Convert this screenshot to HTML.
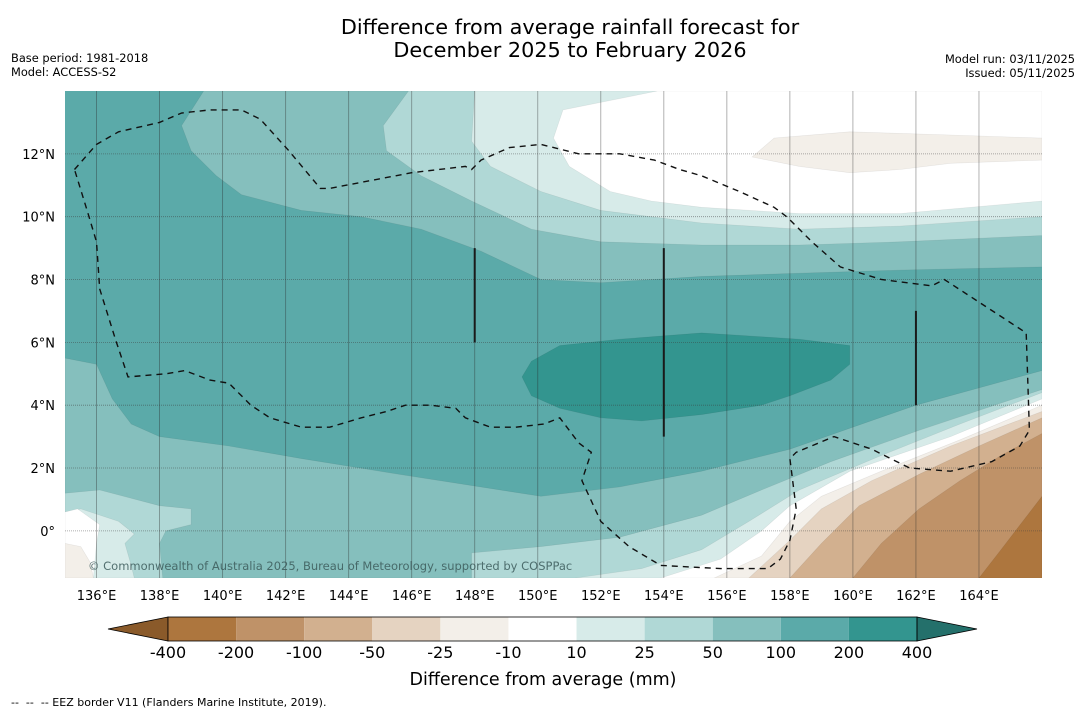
<!DOCTYPE html>
<html><head><meta charset="utf-8"><style>
body{margin:0;background:#fff;width:1085px;height:713px;overflow:hidden;font-family:"Liberation Sans",sans-serif}
svg text{font-family:"DejaVu Sans","Liberation Sans",sans-serif}
</style></head><body>
<svg id="c" width="1085" height="713">
<text x="570" y="34" text-anchor="middle" font-size="20.8">Difference from average rainfall forecast for</text>
<text x="570" y="57" text-anchor="middle" font-size="20.8">December 2025 to February 2026</text>
<text x="11" y="62" font-size="11.4">Base period: 1981-2018</text>
<text x="11" y="76" font-size="11.4">Model: ACCESS-S2</text>
<text x="1075" y="63" font-size="11.4" text-anchor="end">Model run: 03/11/2025</text>
<text x="1075" y="77" font-size="11.4" text-anchor="end">Issued: 05/11/2025</text>
<defs><clipPath id="mc"><rect x="65" y="91" width="977" height="487"/></clipPath></defs>
<g id="map" clip-path="url(#mc)"></g>
<g id="axes"></g>
<g id="cbar"></g>
<text x="543" y="685" text-anchor="middle" font-size="17.5">Difference from average (mm)</text>
<text x="11" y="706" font-size="11" xml:space="preserve">--  --  -- EEZ border V11 (Flanders Marine Institute, 2019).</text>
</svg>
<script>
const cbLabels=["-400","-200","-100","-50","-25","-10","10","25","50","100","200","400"];
const cbColors=["#ad763e","#bf9268","#d2b08f","#e5d3c1","#f3efe9","#ffffff","#d7ebe9","#b0d8d6","#85bfbd","#5baaa9","#33958f"];
const lonTicks=[136,138,140,142,144,146,148,150,152,154,156,158,160,162,164];
const latTicks=[0,2,4,6,8,10,12];
// contour polygons [fill level index, lon/lat pairs]
const contours=[
 [8,[139.4,14,138.7,12.9,139.0,12.1,139.8,11.3,140.6,10.7,142.5,10.2,144.4,10.0,146.3,9.6,148.2,8.9,150.1,8.0,152.0,7.9,155.2,8.1,158.3,8.2,161.5,8.3,166,8.4,166,14]],
 [7,[145.9,14,145.1,12.9,145.2,12.1,146.3,11.3,147.9,10.5,149.8,9.6,152.0,9.2,155.2,9.1,158.3,9.1,161.5,9.2,166,9.4,166,14]],
 [6,[148.0,14,147.9,12.4,148.5,11.6,150.1,10.8,152.0,10.2,155.2,9.8,158.3,9.6,161.5,9.7,166,10.0,166,14]],
 [5,[153.8,14,150.8,13.4,150.5,12.5,151.0,11.6,152.3,10.8,153.6,10.5,155.2,10.3,158.3,10.1,161.5,10.1,166,10.5,166,14]],
 [4,[156.8,11.9,157.5,12.5,159.9,12.7,163.1,12.6,166,12.5,166,11.8,163.1,11.7,161.5,11.5,159.9,11.4,158.3,11.6]],
 [10,[149.5,4.9,149.8,5.4,150.7,5.9,152.6,6.1,155.2,6.3,158.3,6.1,159.9,5.9,159.9,5.3,159.3,4.8,158.0,4.3,157.1,4.0,155.2,3.7,153.3,3.5,152.0,3.6,150.7,3.9,149.8,4.3]],
 [8,[135,5.5,136.0,5.3,136.5,4.2,137.1,3.4,138.0,3.0,140.2,2.7,142.5,2.3,145.6,1.8,150.1,1.1,152.6,1.4,155.2,1.9,158.0,2.6,162.0,4.0,166,5.1,166,-1.5,135,-1.5]],
 [7,[135,1.2,136.1,1.3,138.0,0.8,139.0,0.7,139.0,0.2,138.2,0.0,138.0,-0.4,138.1,-1.5,135,-1.5]],
 [6,[135,0.6,135.5,0.7,136.7,0.3,137.2,-0.1,136.9,-0.4,137.1,-1.1,137.2,-1.5,135,-1.5]],
 [5,[135,0.6,135.4,0.7,136.1,0.2,136.0,-0.4,135.9,-1.5,135,-1.5]],
 [4,[135,-0.4,135.5,-0.5,135.8,-1.0,135.9,-1.5,135,-1.5]],
 [7,[147.9,-1.5,147.9,-0.7,150.1,-0.5,152.6,-0.2,155.2,0.5,157.1,1.3,159.3,2.2,162.1,3.2,166,4.5,166,-1.5]],
 [6,[151.2,-1.5,153.3,-1.2,155.2,-0.6,156.7,0.3,158.3,1.3,160.9,2.4,163.4,3.4,166,4.4,166,-1.5]],
 [5,[153.9,-1.5,155.8,-0.9,157.1,0.0,158.0,0.8,159.9,1.9,163.1,3.0,166,4.2,166,-1.5]],
 [4,[155.6,-1.5,157.1,-0.8,158.0,0.3,159.0,1.1,160.9,1.9,163.4,2.9,166,4.0,166,-1.5]],
 [3,[156.7,-1.5,158.0,-0.3,159.0,0.7,160.6,1.6,163.1,2.7,166,3.8,166,-1.5]],
 [2,[158.0,-1.5,159.0,-0.4,160.2,0.8,162.1,1.8,164.0,2.7,166,3.6,166,-1.5]],
 [1,[160.0,-1.5,160.9,-0.4,162.1,0.7,163.4,1.6,164.7,2.4,166,3.1,166,-1.5]],
 [0,[164.0,-1.5,164.7,-0.6,166,1.1,166,-1.5]]
];
const eez=[135.3,11.5,136.0,12.3,136.7,12.7,138.0,13.0,138.7,13.3,139.6,13.4,140.6,13.4,141.2,13.1,142.1,12.1,143.1,10.9,143.4,10.9,146.0,11.4,147.7,11.6,147.9,11.5,148.2,11.8,149.1,12.2,150.1,12.3,151.3,12.0,152.6,12.0,153.7,11.8,154.5,11.5,155.2,11.3,156.4,10.8,157.5,10.3,157.9,10.0,158.7,9.2,159.6,8.4,160.9,8.0,162.5,7.8,162.9,8.0,165.5,6.3,165.6,3.2,165.3,2.7,164.4,2.2,163.1,1.9,161.8,2.0,160.6,2.6,159.4,3.0,158.2,2.5,158.0,2.3,158.2,0.7,158.0,-0.3,157.7,-0.9,157.3,-1.2,155.8,-1.2,153.9,-1.1,152.9,-0.5,152.0,0.3,151.4,1.6,151.7,2.5,151.3,2.8,150.7,3.6,150.2,3.4,149.3,3.3,148.5,3.3,147.7,3.6,147.4,3.9,146.6,4.0,145.8,4.0,145.2,3.8,144.4,3.6,143.4,3.3,142.5,3.3,141.5,3.6,140.9,4.0,140.2,4.7,139.6,4.8,138.8,5.1,138.2,5.0,137.0,4.9,136.6,6.1,136.1,7.7,136.0,9.2,135.7,10.2];
const segLines=[[148,9,148,6],[154,9,154,3],[162,7,162,4]];
const LON0=135,LON1=166,LAT0=-1.5,LAT1=14,X0=65,X1=1042,Y0=578,Y1=91;
const X=lon=>X0+(lon-LON0)/(LON1-LON0)*(X1-X0);
const Y=lat=>Y0+(lat-LAT0)/(LAT1-LAT0)*(Y1-Y0);
const NS="http://www.w3.org/2000/svg";
function mk(t,a,p){const e=document.createElementNS(NS,t);for(const k in a)e.setAttribute(k,a[k]);p.appendChild(e);return e;}
function pts(arr){let s=[];for(let i=0;i<arr.length;i+=2)s.push(X(arr[i]).toFixed(1)+","+Y(arr[i+1]).toFixed(1));return s.join(" ");}
const map=document.getElementById("map");
const bg=mk("rect",{x:X0,y:Y1,width:X1-X0,height:Y0-Y1,fill:cbColors[9]},map);


contours.forEach((c,i)=>{
 const p=mk("polygon",{points:pts(c[1]),fill:cbColors[c[0]],stroke:"rgba(0,0,0,0.08)","stroke-width":0.6},map);
 
 
});
lonTicks.forEach(l=>{
 const g=mk("line",{x1:X(l),x2:X(l),y1:Y1,y2:Y0,stroke:"rgba(40,40,40,0.4)","stroke-width":0.9},map);
 
 
});
latTicks.forEach(l=>{
 const g=mk("line",{x1:X0,x2:X1,y1:Y(l),y2:Y(l),stroke:"rgba(60,60,60,0.55)","stroke-width":0.8,"stroke-dasharray":"1,1"},map);
 
 
});
const ez=mk("polygon",{points:pts(eez),fill:"none",stroke:"#111","stroke-width":1.4,"stroke-dasharray":"6,5"},map);


segLines.forEach(s=>{
 const l=mk("line",{x1:X(s[0]),y1:Y(s[1]),x2:X(s[2]),y2:Y(s[3]),stroke:"#1a1a1a","stroke-width":2},map);
 
 
});
const cp=mk("text",{x:88,y:570,"font-size":11.5,fill:"rgba(60,90,90,0.85)"},map);
cp.textContent="© Commonwealth of Australia 2025, Bureau of Meteorology, supported by COSPPac";


const ax=document.getElementById("axes");
lonTicks.forEach(l=>{
 const t=mk("text",{x:X(l),y:600,"font-size":13,"text-anchor":"middle"},ax);
 t.textContent=l+"°E";
 
 
});
latTicks.forEach(l=>{
 const t=mk("text",{x:55,y:Y(l)+5,"font-size":13,"text-anchor":"end"},ax);
 t.textContent=l===0?"0°":l+"°N";
 
 
});
const cb=document.getElementById("cbar");
const CB0=168,CB1=917,CBT=617,CBH=24,n=cbColors.length,w=(CB1-CB0)/n;
const lt=mk("polygon",{points:`${CB0},${CBT} 108,${CBT+CBH/2} ${CB0},${CBT+CBH}`,fill:"#8a5a2a",stroke:"#000","stroke-width":0.8},cb);


cbColors.forEach((c,i)=>{
 const r=mk("rect",{x:CB0+i*w,y:CBT,width:w,height:CBH,fill:c},cb);
 
 
});
const rt=mk("polygon",{points:`${CB1},${CBT} 977,${CBT+CBH/2} ${CB1},${CBT+CBH}`,fill:"#24706b",stroke:"#000","stroke-width":0.8},cb);


const ol=mk("rect",{x:CB0,y:CBT,width:CB1-CB0,height:CBH,fill:"none",stroke:"#000","stroke-width":0.8},cb);


cbLabels.forEach((s,i)=>{
 const t=mk("text",{x:CB0+i*w,y:658,"font-size":16,"text-anchor":"middle"},cb);
 t.textContent=s;
 
 
});
</script>
</body></html>
